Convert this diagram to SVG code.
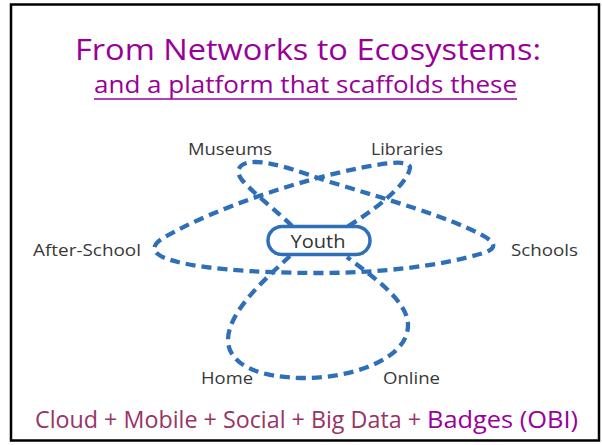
<svg xmlns="http://www.w3.org/2000/svg" width="602" height="445" viewBox="0 0 602 445">
<style>
.title{font-family:"Open Sans","Noto Sans",sans-serif;fill:#990099;text-anchor:middle}
.lbl{font-family:"Open Sans","Liberation Sans",sans-serif;font-size:16.5px;font-weight:500;fill:#383838}
.loop{fill:none;stroke:#2f6fb8;stroke-width:4.3;stroke-dasharray:10 6;stroke-linecap:butt}
.foot{font-family:"Open Sans","Noto Sans",sans-serif;font-size:24px}
</style>
<rect x="0" y="0" width="602" height="445" fill="#ffffff"/>
<rect x="11" y="4.5" width="588" height="436" fill="#ffffff" stroke="#000000" stroke-width="2.5"/>
<g id="title">
<text class="title" x="308" y="60" font-size="30" textLength="466" lengthAdjust="spacingAndGlyphs">From Networks to Ecosystems:</text>
<text class="title" x="305.5" y="93" font-size="24" textLength="423" lengthAdjust="spacingAndGlyphs">and a platform that scaffolds these</text>
<line x1="94" y1="99" x2="517" y2="99" stroke="#990099" stroke-width="1.5"/>
</g>
<g id="connectors">
<path class="loop" d="M 292,226 C 278,212 252,192 242,180 C 234,170 240,162 255,162 C 275,162 300,172 330,182 C 390,200 450,218 480,234 C 500,244 495,250 480,254 C 440,266 380,273 320,273 C 250,273 190,268 165,258 C 150,252 152,244 165,237 C 215,208 300,180 360,168 C 390,162 410,160 410,168 C 408,180 390,200 347,227"/>
<path class="loop" d="M 290,256 C 270,275 228,310 228,340 C 228,365 260,378 305,378 C 350,378 408,360 408,325 C 408,300 370,275 347,257"/>
</g>
<g id="youth">
<rect x="268" y="226.5" width="102" height="28" rx="14" fill="#ffffff" stroke="#2f6fb8" stroke-width="3.5"/>
<text x="318" y="248" font-family="Open Sans, Liberation Sans, sans-serif" font-size="19" fill="#333333" text-anchor="middle" textLength="55" lengthAdjust="spacingAndGlyphs">Youth</text>
</g>
<g id="museums"><text class="lbl" x="188" y="155" textLength="84" lengthAdjust="spacingAndGlyphs">Museums</text></g>
<g id="libraries"><text class="lbl" x="371" y="155" textLength="72" lengthAdjust="spacingAndGlyphs">Libraries</text></g>
<g id="afterschool"><text class="lbl" x="33" y="256" textLength="108" lengthAdjust="spacingAndGlyphs">After-School</text></g>
<g id="schools"><text class="lbl" x="511" y="256" textLength="67" lengthAdjust="spacingAndGlyphs">Schools</text></g>
<g id="home"><text class="lbl" x="201" y="384" textLength="52" lengthAdjust="spacingAndGlyphs">Home</text></g>
<g id="online"><text class="lbl" x="383" y="384" textLength="57" lengthAdjust="spacingAndGlyphs">Online</text></g>
<g id="footer">
<text class="foot" x="35" y="428" fill="#993366" textLength="386" lengthAdjust="spacingAndGlyphs">Cloud + Mobile + Social + Big Data +</text>
<text class="foot" x="427" y="428" fill="#990099" textLength="151" lengthAdjust="spacingAndGlyphs">Badges (OBI)</text>
</g>
</svg>
